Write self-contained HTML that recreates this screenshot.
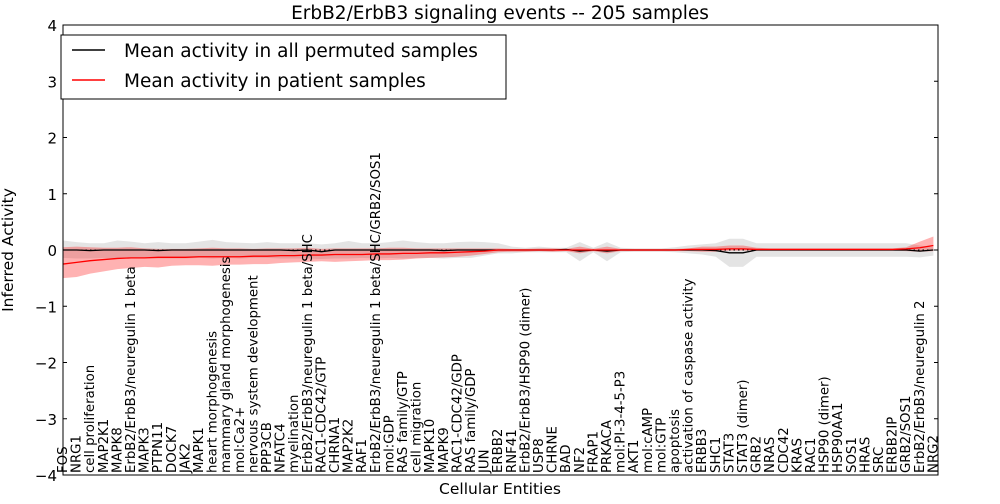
<!DOCTYPE html>
<html><head><meta charset="utf-8"><style>
body{margin:0;background:#fff;font-family:"DejaVu Sans",sans-serif}
svg text{font-family:"DejaVu Sans","Liberation Sans",sans-serif}
</style></head><body>
<svg id="chart" width="1000" height="500" xmlns="http://www.w3.org/2000/svg">
<text x="500" y="19" text-anchor="middle" font-size="18.5">ErbB2/ErbB3 signaling events -- 205 samples</text>
<g id="bands"></g>
<g id="lines"></g>
<rect x="63" y="25" width="875" height="450" fill="none" stroke="#000" stroke-width="1"/>
<g id="yaxis"></g>
<g id="xaxis"></g>
<text x="500" y="494" text-anchor="middle" font-size="15.5">Cellular Entities</text>
<text transform="translate(13,250) rotate(-90)" text-anchor="middle" font-size="15.5">Inferred Activity</text>
<g>
<rect x="61" y="35" width="445" height="64" fill="#fff" stroke="#000"/>
<line x1="72" y1="50" x2="105" y2="50" stroke="#000" stroke-width="1.5"/>
<text x="124" y="57" font-size="18.5">Mean activity in all permuted samples</text>
<line x1="72" y1="80" x2="105" y2="80" stroke="red" stroke-width="1.5"/>
<text x="124" y="87" font-size="18.5">Mean activity in patient samples</text>
</g>
</svg>
<script>
const categories=["FOS","NRG1","cell proliferation","MAP2K1","MAPK8","ErbB2/ErbB3/neuregulin 1 beta","MAPK3","PTPN11","DOCK7","JAK2","MAPK1","heart morphogenesis","mammary gland morphogenesis","mol:Ca2+","nervous system development","PPP3CB","NFATC4","myelination","ErbB2/ErbB3/neuregulin 1 beta/SHC","RAC1-CDC42/GTP","CHRNA1","MAP2K2","RAF1","ErbB2/ErbB3/neuregulin 1 beta/SHC/GRB2/SOS1","mol:GDP","RAS family/GTP","cell migration","MAPK10","MAPK9","RAC1-CDC42/GDP","RAS family/GDP","JUN","ERBB2","RNF41","ErbB2/ErbB3/HSP90 (dimer)","USP8","CHRNE","BAD","NF2","FRAP1","PRKACA","mol:PI-3-4-5-P3","AKT1","mol:cAMP","mol:GTP","apoptosis","activation of caspase activity","ERBB3","SHC1","STAT3","STAT3 (dimer)","GRB2","NRAS","CDC42","KRAS","RAC1","HSP90 (dimer)","HSP90AA1","SOS1","HRAS","SRC","ERBB2IP","GRB2/SOS1","ErbB2/ErbB3/neuregulin 2","NRG2"];
const patientMean=[-0.25,-0.22,-0.19,-0.17,-0.15,-0.14,-0.14,-0.13,-0.13,-0.13,-0.12,-0.12,-0.12,-0.12,-0.11,-0.11,-0.1,-0.1,-0.09,-0.09,-0.08,-0.08,-0.08,-0.07,-0.07,-0.06,-0.06,-0.05,-0.05,-0.04,-0.03,-0.02,0,0,0,0,0,0,0,0,0,0,0,0,0,0,0.01,0.01,0.01,0.02,0.02,0.01,0.01,0.01,0.01,0.01,0.01,0.01,0.01,0.01,0.01,0.01,0.02,0.04,0.08];
const patientLo=[-0.5,-0.48,-0.42,-0.38,-0.34,-0.32,-0.3,-0.31,-0.28,-0.27,-0.27,-0.28,-0.26,-0.26,-0.25,-0.25,-0.23,-0.22,-0.21,-0.2,-0.21,-0.2,-0.19,-0.18,-0.18,-0.17,-0.15,-0.14,-0.13,-0.12,-0.1,-0.07,-0.04,-0.03,-0.03,-0.02,-0.03,-0.02,-0.06,-0.02,-0.06,-0.02,-0.02,-0.02,-0.02,-0.02,-0.02,-0.03,-0.03,-0.01,-0.01,-0.01,-0.01,-0.01,-0.01,-0.01,-0.01,-0.01,-0.01,-0.01,-0.01,-0.01,-0.02,-0.03,-0.02];
const patientHi=[0.05,0.06,0.05,0.04,0.04,0.05,0.03,0.02,0.02,0.02,0.03,0.04,0.03,0.03,0.02,0.03,0.03,0.03,0.04,0.02,0.03,0.03,0.03,0.03,0.04,0.04,0.03,0.03,0.03,0.03,0.03,0.03,0.03,0.02,0.02,0.03,0.03,0.02,0.06,0.02,0.06,0.02,0.02,0.02,0.02,0.02,0.03,0.06,0.06,0.08,0.08,0.04,0.03,0.03,0.03,0.03,0.03,0.03,0.03,0.03,0.03,0.03,0.05,0.15,0.24];
const permMean=[0,0,-0.01,0,0,0,0,-0.01,0,0,0,0,0,0,0,0,0,-0.01,0,-0.03,0,0,0,0,0,0,0,0,-0.01,0,0,0,0,0,0,0,0,0.01,-0.02,0,-0.02,0,0,0,0,0,0,0,-0.01,-0.05,-0.05,0,0,0,0,0,0,0,0,0,0,0,0,-0.02,0];
const permLo=[-0.14,-0.15,-0.15,-0.14,-0.15,-0.15,-0.14,-0.15,-0.15,-0.15,-0.14,-0.15,-0.14,-0.15,-0.14,-0.14,-0.15,-0.15,-0.15,-0.16,-0.15,-0.15,-0.14,-0.15,-0.14,-0.15,-0.14,-0.14,-0.15,-0.14,-0.14,-0.1,-0.06,-0.06,-0.04,-0.04,-0.04,-0.04,-0.2,-0.04,-0.2,-0.04,-0.03,-0.03,-0.03,-0.04,-0.06,-0.08,-0.12,-0.3,-0.3,-0.12,-0.12,-0.12,-0.12,-0.12,-0.12,-0.12,-0.12,-0.12,-0.12,-0.12,-0.12,-0.13,-0.1];
const permHi=[0.17,0.14,0.12,0.12,0.17,0.15,0.12,0.14,0.12,0.12,0.15,0.18,0.14,0.13,0.12,0.14,0.12,0.12,0.12,0.1,0.12,0.16,0.12,0.12,0.14,0.17,0.14,0.12,0.12,0.14,0.15,0.14,0.12,0.06,0.04,0.06,0.04,0.04,0.14,0.04,0.14,0.04,0.03,0.03,0.03,0.05,0.08,0.1,0.12,0.2,0.2,0.12,0.12,0.12,0.12,0.12,0.12,0.12,0.12,0.12,0.12,0.12,0.12,0.08,0.05];
const yTicks=[4,3,2,1,0,-1,-2,-3,-4];
const yTickLabels=["4","3","2","1","0","\u22121","\u22122","\u22123","\u22124"];

const NS="http://www.w3.org/2000/svg";
const x=i=>63+i*(870.4/(categories.length-1));
const y=v=>250-v*56.25;
function mk(tag,attrs,parent){const e=document.createElementNS(NS,tag);for(const k in attrs)e.setAttribute(k,attrs[k]);parent.appendChild(e);return e;}
function band(lo,hi,fill,op,name){
  let d="M"+lo.map((v,i)=>x(i)+","+y(v)).join("L");
  for(let i=hi.length-1;i>=0;i--)d+="L"+x(i)+","+y(hi[i]);
  const p=mk("path",{d:d+"Z",fill:fill,"fill-opacity":op},document.getElementById("bands"));
  
  
}
band(permLo,permHi,"#bbb",0.4,"permuted-band");
band(patientLo,patientHi,"#f00",0.3,"patient-band");
const L=document.getElementById("lines");
const zl=mk("line",{x1:63,x2:938,y1:y(0),y2:y(0),stroke:"#000","stroke-dasharray":"1.5,3"},L);


function line(arr,col,name){
  const p=mk("polyline",{points:arr.map((v,i)=>x(i)+","+y(v)).join(" "),fill:"none",stroke:col,"stroke-width":1.3},L);
  
  
}
line(permMean,"#000","permuted-mean-line");
line(patientMean,"#f00","patient-mean-line");
const YA=document.getElementById("yaxis");
yTicks.forEach((t,i)=>{
  mk("line",{x1:63,x2:67,y1:y(t),y2:y(t),stroke:"#000"},YA);
  mk("line",{x1:934,x2:938,y1:y(t),y2:y(t),stroke:"#000"},YA);
  const tx=mk("text",{x:57,y:y(t)+6,"text-anchor":"end","font-size":15},YA);
  tx.textContent=yTickLabels[i];
  
  
});
const XA=document.getElementById("xaxis");
categories.forEach((c,i)=>{
  const tx=mk("text",{transform:"translate("+(x(i)+4)+",473) rotate(-90)","font-size":13.3},XA);
  tx.textContent=c;
  
  
});
</script>
</body></html>
